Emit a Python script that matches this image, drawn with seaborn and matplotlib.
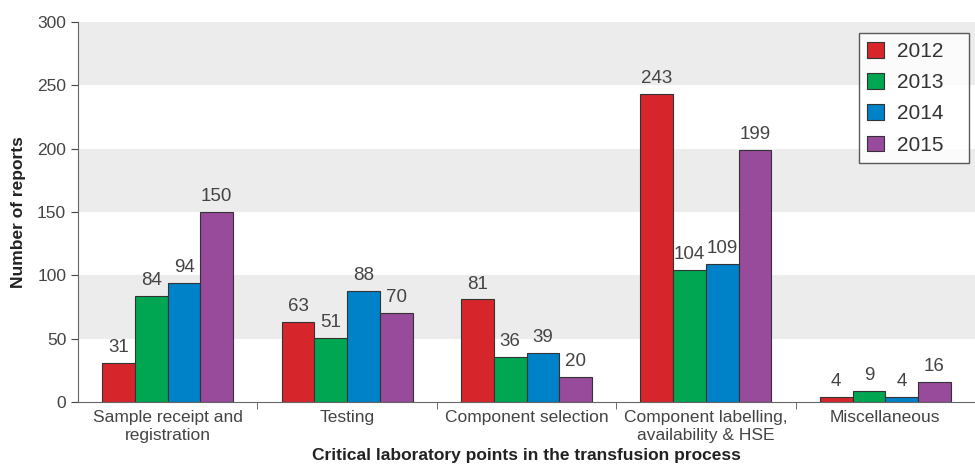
import numpy as np
import pandas as pd
import matplotlib.pyplot as plt
import seaborn as sns
from matplotlib.ticker import FixedLocator

categories = ["Sample receipt and\nregistration", "Testing", "Component selection",
              "Component labelling,\navailability & HSE", "Miscellaneous"]
years = ["2012", "2013", "2014", "2015"]
v2012 = [31, 63, 81, 243, 4]
v2013 = [84, 51, 36, 104, 9]
v2014 = [94, 88, 39, 109, 4]
v2015 = [150, 70, 20, 199, 16]
colors = ["#d7262b", "#00a651", "#0082c8", "#984a9b"]

df = pd.DataFrame({
    "category": categories * 4,
    "year": np.repeat(years, len(categories)),
    "reports": v2012 + v2013 + v2014 + v2015,
})

sns.set_style("white")
plt.rcParams["font.family"] = ["Liberation Sans", "DejaVu Sans"]

fig = plt.figure(figsize=(9.75, 4.66), dpi=100)
ax = fig.add_axes([0.08, 0.137, 0.92, 0.816])

# grey bands behind the bars
for lo in [50, 150, 250]:
    ax.axhspan(lo, lo + 50, color="#ececec", zorder=0, lw=0)

sns.barplot(data=df, x="category", y="reports", hue="year", palette=colors,
            saturation=1, width=0.73, edgecolor="#333333", linewidth=0.8,
            ax=ax, zorder=2)

for c in ax.containers:
    ax.bar_label(c, padding=5, fontsize=13.5, color="#444444")

ax.set_xlim(-0.5, 4.5)
ax.set_ylim(0, 300)
ax.set_yticks(range(0, 301, 50))
ax.tick_params(axis="y", labelsize=12.5, colors="#444444", length=5, direction="out", left=True)
ax.tick_params(axis="x", which="major", length=0, labelsize=12.5, colors="#444444", pad=6)
ax.xaxis.set_minor_locator(FixedLocator([0.5, 1.5, 2.5, 3.5]))
ax.tick_params(axis="x", which="minor", length=5, color="#555555", bottom=True)

for s in ["top", "right"]:
    ax.spines[s].set_visible(False)
for s in ["left", "bottom"]:
    ax.spines[s].set_color("#666666")

ax.set_ylabel("Number of reports", fontsize=12.5, fontweight="bold", color="#222222",
              labelpad=8)
ax.set_xlabel("Critical laboratory points in the transfusion process", fontsize=12.5,
              fontweight="bold", color="#222222", labelpad=4)

handles, labels = ax.get_legend_handles_labels()
leg = ax.legend(handles, [l + "   " for l in labels], loc="upper right",
                bbox_to_anchor=(0.993, 0.97), fontsize=15,
                frameon=True, fancybox=False, handlelength=0.8, handleheight=0.8,
                labelspacing=0.58, borderpad=0.4, handletextpad=0.6, borderaxespad=0)
leg.get_frame().set_edgecolor("#333333")
leg.get_frame().set_linewidth(1.0)
for t in leg.get_texts():
    t.set_color("#333333")
for h in leg.legend_handles:
    h.set_edgecolor("#333333")

fig.savefig("out.png", dpi=100)
